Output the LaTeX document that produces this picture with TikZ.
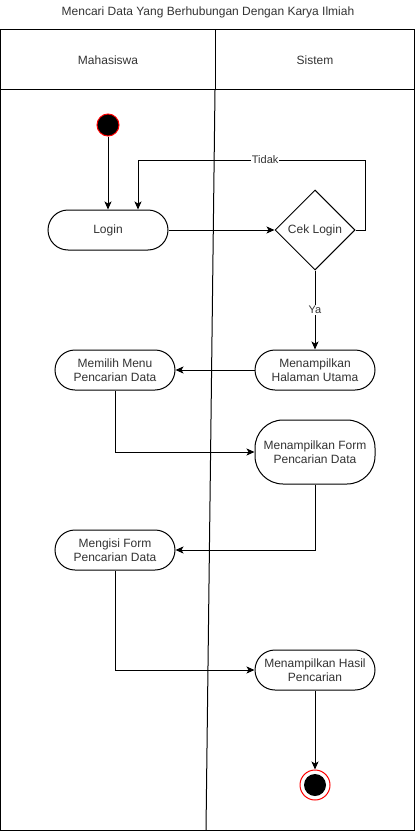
\documentclass[tikz,border=0pt]{standalone}
\usepackage{fontspec}
\setmainfont{Liberation Sans}
\usetikzlibrary{arrows.meta,shapes.geometric}
\definecolor{txt}{HTML}{333333}
\tikzset{
  lane/.style={draw=black,line width=1pt},
  act/.style={draw=black,line width=1pt,fill=white,rectangle,rounded corners=20pt,minimum width=120pt,minimum height=40pt,align=center,text=txt,font=\fontsize{12}{14}\selectfont,inner sep=0pt},
  actbig/.style={act,minimum height=64pt,rounded corners=28pt},
  dec/.style={draw=black,line width=1pt,fill=white,diamond,minimum width=80pt,minimum height=80pt,inner sep=0pt,text=txt,font=\fontsize{12}{14}\selectfont},
  flow/.style={draw=black,line width=1pt,-{Stealth[length=8pt,width=7pt,inset=2pt]}},
  lbl/.style={fill=white,text=txt,font=\fontsize{11}{13}\selectfont,inner sep=1pt},
  hdr/.style={text=txt,font=\fontsize{12}{14}\selectfont}
}
\begin{document}
\begin{tikzpicture}[x=1pt,y=-1pt]
\useasboundingbox (0,0) rectangle (417,832);
% frame
\draw[lane] (0.5,30) rectangle (414.5,830);
\draw[lane] (0.5,90) -- (414.5,90);
\coordinate (dtop) at (215,30);
\coordinate (dmid) at (215,90);
\coordinate (dbot) at (206,830);
\draw[lane] (dtop) -- (dmid);
\draw[lane] (dmid) -- (dbot);
\node[hdr] (title) at (208,12) {Mencari Data Yang Berhubungan Dengan Karya Ilmiah};
\node[hdr] (h1) at (108,60) {Mahasiswa};
\node[hdr] (h2) at (315,60) {Sistem};
% nodes
\node[circle,fill=black,draw=red,line width=1pt,minimum size=22pt,inner sep=0pt] (start) at (108,125) {};
\node[act] (login) at (108,230) {Login};
\node[dec] (cek) at (315,230) {Cek Login};
\node[act] (utama) at (315,370) {Menampilkan\\Halaman Utama};
\node[act] (menu) at (115,370) {Memilih Menu\\Pencarian Data};
\node[actbig] (form) at (315,452) {Menampilkan Form\\Pencarian Data};
\node[act] (isi) at (115,550) {Mengisi Form\\Pencarian Data};
\node[act] (hasil) at (315,670) {Menampilkan Hasil\\Pencarian};
\node[circle,draw=red,fill=white,line width=1pt,minimum size=30pt,inner sep=0pt] (end) at (315,785) {};
\node[circle,fill=black,minimum size=22pt,inner sep=0pt] (endin) at (end.center) {};
% connectors
\draw[flow] (start) -- (login);
\draw[flow] (login) -- (cek);
\coordinate (t1) at (365,230);
\coordinate (t2) at (365,160);
\coordinate (t3) at (138,160);
\draw[flow] (cek.east) -- (t1) -- (t2) -- node[lbl,pos=0.44] (tidak) {Tidak} (t3) -- (login.north -| t3);
\draw[flow] (cek) -- node[lbl] (ya) {Ya} (utama);
\draw[flow] (utama) -- (menu);
\draw[flow] (menu.south) |- (form.west);
\draw[flow] (form.south) |- (isi.east);
\draw[flow] (isi.south) |- (hasil.west);
\draw[flow] (hasil) -- (end);
\end{tikzpicture}
\end{document}
